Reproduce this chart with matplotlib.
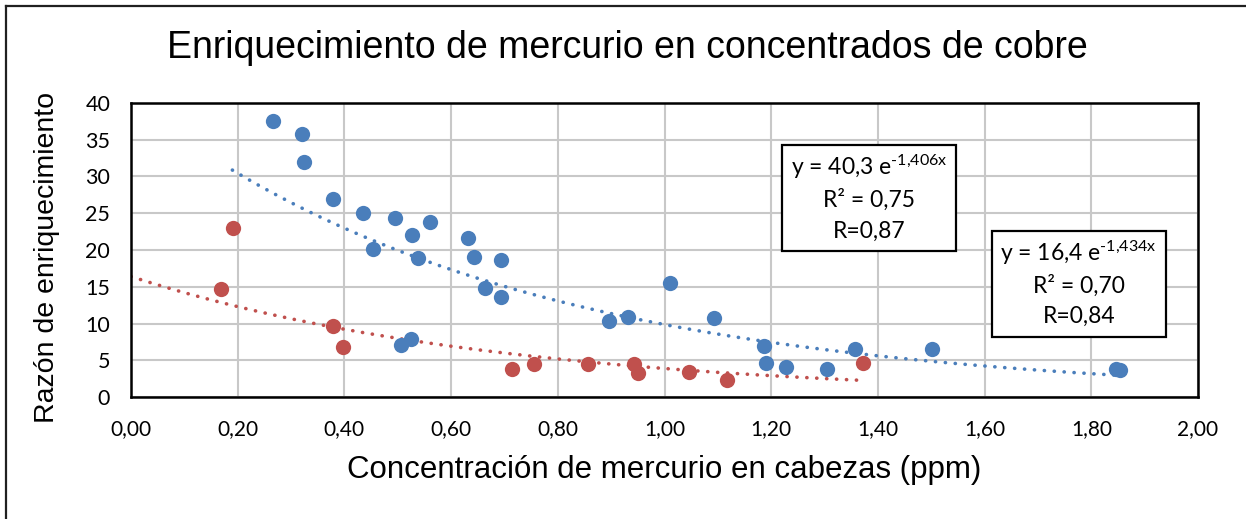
import numpy as np
import matplotlib
matplotlib.use("Agg")
import matplotlib.pyplot as plt
from matplotlib.patches import Rectangle
from matplotlib.lines import Line2D

plt.rcParams['font.family'] = ['Liberation Sans', 'DejaVu Sans']
plt.rcParams['mathtext.fontset'] = 'custom'
plt.rcParams['mathtext.rm'] = 'Lato'

# Data
blue_x = [0.267, 0.321, 0.324, 0.379, 0.434, 0.494, 0.527, 0.560, 0.454, 0.538,
          0.632, 0.643, 0.694, 0.664, 0.693, 0.506, 0.524, 0.896, 0.932, 1.010,
          1.093, 1.186, 1.190, 1.228, 1.304, 1.357, 1.502, 1.846, 1.854]
blue_y = [37.5, 35.8, 32.0, 26.9, 25.05, 24.4, 22.0, 23.8, 20.1, 18.9,
          21.6, 19.1, 18.7, 14.9, 13.65, 7.1, 7.87, 10.4, 10.85, 15.5,
          10.8, 6.96, 4.6, 4.07, 3.9, 6.5, 6.6, 3.8, 3.7]
red_x = [0.191, 0.169, 0.379, 0.398, 0.714, 0.755, 0.856, 0.942, 0.951, 1.045, 1.118, 1.373]
red_y = [23.0, 14.65, 9.7, 6.8, 3.9, 4.5, 4.47, 4.47, 3.35, 3.5, 2.4, 4.7]

# Exponential trend parameters (from the chart labels)
blue_a, blue_b, blue_range = 40.3, -1.406, (0.19, 1.85)
red_a, red_b, red_range = 16.4, -1.434, (0.0, 1.37)

x_ticks = [0.0, 0.2, 0.4, 0.6, 0.8, 1.0, 1.2, 1.4, 1.6, 1.8, 2.0]
y_ticks = [0, 5, 10, 15, 20, 25, 30, 35, 40]

BLUE = '#4A7EBB'
RED = '#C0504D'
TICKFONT = 'Lato'

fig = plt.figure(figsize=(12.46, 5.19), dpi=100)
# outer chart frame (left and top edges visible)
fig.add_artist(Line2D([6/1246, 6/1246], [0, 1 - 6/519], transform=fig.transFigure,
                      color='#202020', linewidth=1.6))
fig.add_artist(Line2D([6/1246, 1], [1 - 6/519, 1 - 6/519], transform=fig.transFigure,
                      color='#202020', linewidth=1.6))

ax = fig.add_axes([131/1246, 1 - 397.3/519, (1198 - 131)/1246, (397.3 - 102.7)/519])

ax.set_xlim(0, 2)
ax.set_ylim(0, 40)
ax.set_xticks(x_ticks)
ax.set_yticks(y_ticks)
ax.set_xticklabels([f"{v:.2f}".replace('.', ',') for v in x_ticks],
                   fontsize=15, family=TICKFONT)
ax.set_yticklabels([str(v) for v in y_ticks], fontsize=15.5, family=TICKFONT)
ax.tick_params(axis='y', length=0, pad=15)
ax.tick_params(axis='x', length=0, pad=16)
ax.grid(True, color='#C8C8C8', linewidth=1.5)
ax.set_axisbelow(True)
for s in ax.spines.values():
    s.set_linewidth(1.8)
    s.set_color('black')

# trend lines
xb = np.linspace(*blue_range, 200)
xr = np.linspace(*red_range, 200)
ax.plot(xb, blue_a * np.exp(blue_b * xb), color=BLUE, linewidth=2.6,
        linestyle=(0, (0.05, 2.7)), dash_capstyle='round', zorder=2)
ax.plot(xr, red_a * np.exp(red_b * xr), color=RED, linewidth=2.6,
        linestyle=(0, (0.05, 2.7)), dash_capstyle='round', zorder=2)

ax.plot(blue_x, blue_y, 'o', color=BLUE, markersize=11, markeredgewidth=0, zorder=3)
ax.plot(red_x, red_y, 'o', color=RED, markersize=11, markeredgewidth=0, zorder=3)

# annotation boxes
def box(x0, y0, x1, y1, lines):
    X0 = (x0 - 131) / 1067 * 2
    X1 = (x1 - 131) / 1067 * 2
    Y0 = (397.3 - y1) / 7.365
    Y1 = (397.3 - y0) / 7.365
    ax.add_patch(Rectangle((X0, Y0), X1 - X0, Y1 - Y0, facecolor='white',
                           edgecolor='black', linewidth=1.6, zorder=4))
    cx = (X0 + X1) / 2
    offs = [22, 55, 86]
    for off, t in zip(offs, lines):
        yy = (397.3 - (y0 + off)) / 7.365
        ax.text(cx, yy, t, ha='center', va='center', fontsize=16.5,
                family=TICKFONT, zorder=5)

box(781.7, 145, 956, 251,
    ["y = 40,3 e$\\mathregular{^{\u2010 1{,}406x}}$", "R² = 0,75", "R=0,87"])
box(991.7, 230.7, 1165.7, 336.7,
    ["y = 16,4 e$\\mathregular{^{\u2010 1{,}434x}}$", "R² = 0,70", "R=0,84"])

fig.text(627/1246, 1 - 48/519, "Enriquecimiento de mercurio en concentrados de cobre",
         ha='center', va='center', fontsize=27)
fig.text(664/1246, 1 - 470/519, "Concentración de mercurio en cabezas (ppm)",
         ha='center', va='center', fontsize=22.5)
fig.text(47/1246, 1 - 257/519, "Razón de enriquecimiento", rotation=90,
         ha='center', va='center', fontsize=20.5)

fig.savefig("out.png", dpi=100)
